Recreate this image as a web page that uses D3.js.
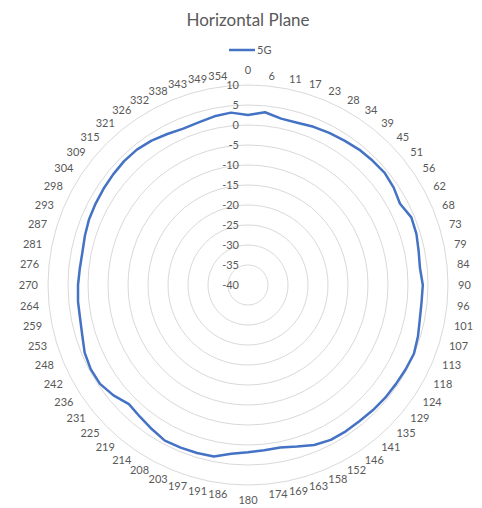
<!DOCTYPE html>
<html>
<head>
<meta charset="utf-8">
<script src="https://cdn.jsdelivr.net/npm/d3@7"></script>
<style>
  body { margin: 0; background: #fff; }
  svg { display: block; font-family: Lato, "Open Sans", sans-serif; }
</style>
</head>
<body>
<div id="chart"></div>
<script>
// Horizontal Plane - radar chart of 5G gain (dB) over 64 azimuth steps

const angleLabels = ["0", "6", "11", "17", "23", "28", "34", "39", "45", "51", "56", "62",
    "68", "73", "79", "84", "90", "96", "101", "107", "113", "118", "124", "129", "135",
    "141", "146", "152", "158", "163", "169", "174", "180", "186", "191", "197", "203",
    "208", "214", "219", "225", "231", "236", "242", "248", "253", "259", "264", "270",
    "276", "281", "287", "293", "298", "304", "309", "315", "321", "326", "332", "338",
    "343", "349", "354"];

const gain5G = [2.5, 3.4, 2.4, 2.4, 2.8, 3.1, 3.4, 3.8, 4.0, 4.2, 3.8, 3.1,
    4.2, 4.0, 3.5, 3.2, 3.7, 3.6, 3.8, 4.4, 4.9, 4.7, 4.5, 4.4, 4.2,
    4.0, 4.0, 3.9, 3.3, 2.2, 1.4, 1.5, 1.8, 2.4, 3.7, 3.9, 4.0,
    4.1, 3.3, 2.6, 2.1, 3.5, 4.5, 4.6, 4.2, 3.3, 2.8, 2.7, 2.5,
    2.25, 2.2, 2.6, 3.0, 3.2, 3.4, 3.6, 3.8, 3.8, 3.4, 2.8, 2.3,
    2.5, 3.0, 3.3];

const radialTicks = [-40, -35, -30, -25, -20, -15, -10, -5, 0, 5, 10];
const seriesName = "5G";

const width = 482, height = 508;
const cx = 248, cy = 285;
const outerR = 200;

const textColor = "#595959";
const gridColor = "#d9d9d9";
const lineColor = "#4472C4";

const svg = d3.select("#chart").append("svg")
    .attr("width", width)
    .attr("height", height);

const r = d3.scaleLinear().domain([-40, 10]).range([0, outerR]);
const angle = d3.scaleLinear().domain([0, angleLabels.length]).range([0, 2 * Math.PI]);

const g = svg.append("g").attr("transform", `translate(${cx},${cy})`);

// rings (64-sided polygons like Excel)
const ringLine = d3.lineRadial()
    .angle((d, i) => angle(i))
    .radius(d => r(d))
    .curve(d3.curveLinearClosed);

g.selectAll(".ring")
    .data(radialTicks.slice(1))
    .enter()
    .append("path")
    .attr("class", "ring")
    .attr("d", t => ringLine(angleLabels.map(() => t)))
    .attr("fill", "none")
    .attr("stroke", gridColor)
    .attr("stroke-width", 1);

// radial value labels
g.selectAll(".rtick")
    .data(radialTicks)
    .enter()
    .append("text")
    .attr("class", "rtick")
    .attr("x", -9)
    .attr("y", t => -r(t) + 4)
    .attr("text-anchor", "end")
    .attr("font-size", 11)
    .attr("fill", textColor)
    .text(t => t);

// series line
const seriesLine = d3.lineRadial()
    .angle((d, i) => angle(i))
    .radius(d => r(d))
    .curve(d3.curveLinearClosed);

g.append("path")
    .attr("d", seriesLine(gain5G))
    .attr("fill", "none")
    .attr("stroke", lineColor)
    .attr("stroke-width", 2.5)
    .attr("stroke-linejoin", "round");

// category labels: start/end anchored on the sides, centred above/below at 0 and 180
const labelR = outerR + 10;
g.selectAll(".alabel")
    .data(angleLabels)
    .enter()
    .append("text")
    .attr("class", "alabel")
    .attr("font-size", 11)
    .attr("fill", textColor)
    .each(function (d, i) {
        const a = angle(i);
        const s = Math.sin(a), c = Math.cos(a);
        const t = d3.select(this).text(d);
        let x = labelR * s, y = -labelR * c + 4;
        if (Math.abs(s) < 1e-6) {
            t.attr("text-anchor", "middle");
            y = c > 0 ? -labelR - 1 : labelR + 9;
        } else {
            t.attr("text-anchor", s > 0 ? "start" : "end");
        }
        t.attr("x", x).attr("y", y);
    });

// title
svg.append("text")
    .attr("x", cx)
    .attr("y", 26)
    .attr("text-anchor", "middle")
    .attr("font-size", 17)
    .attr("fill", textColor)
    .text("Horizontal Plane");

// legend
const legend = svg.append("g").attr("transform", "translate(229,50)");
legend.append("line")
    .attr("x1", 0).attr("x2", 26)
    .attr("y1", 0).attr("y2", 0)
    .attr("stroke", lineColor)
    .attr("stroke-width", 2.5);
legend.append("text")
    .attr("x", 28)
    .attr("y", 4)
    .attr("font-size", 11)
    .attr("fill", textColor)
    .text(seriesName);
</script>
</body>
</html>
